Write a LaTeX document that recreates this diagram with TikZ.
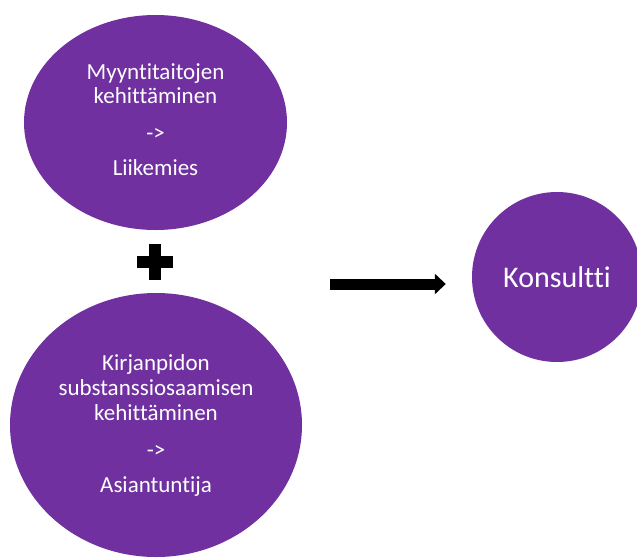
\documentclass[tikz,border=0pt]{standalone}
\usepackage{fontspec}
\setmainfont{Carlito}[Ligatures={NoCommon}]
\usetikzlibrary{arrows.meta,shapes.geometric}
\definecolor{IdeaPurple}{HTML}{7030A0}

\begin{document}
\begin{tikzpicture}[x=1pt, y=-1pt,
    every node/.style={font=\fontsize{23}{24}\selectfont},
    blob/.style={ellipse, fill=IdeaPurple, text=white, inner sep=0pt,
        align=center},
    bigarrow/.style={line width=11pt, -{Triangle[length=11pt,width=20pt]}},
    plusbar/.style={line width=12.5pt}]
\useasboundingbox (0,0) rectangle (637,557);

\node[blob, minimum width=263pt, minimum height=215pt] (sales) at (155.5,122.5)
    {Myyntitaitojen\\kehittäminen\\[13pt] ->\\[11pt] Liikemies\\[-18pt]};
\node[blob, minimum width=292pt, minimum height=264pt,
    font=\fontsize{23}{25}\selectfont] (books) at (156,425)
    {Kirjanpidon\\substanssiosaamisen\\kehittäminen\\[12pt] ->\\[10pt] Asiantuntija};
\node[blob, circle, minimum size=170pt, font=\fontsize{30}{31}\selectfont]
    (kons) at (557,277) {Konsultti};

% plus between the two skills
\node[inner sep=0pt] (plus) at (155,262) {};
\draw[plusbar] ([yshift=-18pt]plus.center) -- ([yshift=18pt]plus.center);
\draw[plusbar] ([xshift=-18pt]plus.center) -- ([xshift=18pt]plus.center);

\coordinate (arrowstart) at (330,284);
\draw[bigarrow, shorten >=26pt] (arrowstart) -- (arrowstart -| kons.west);
\end{tikzpicture}
\end{document}
